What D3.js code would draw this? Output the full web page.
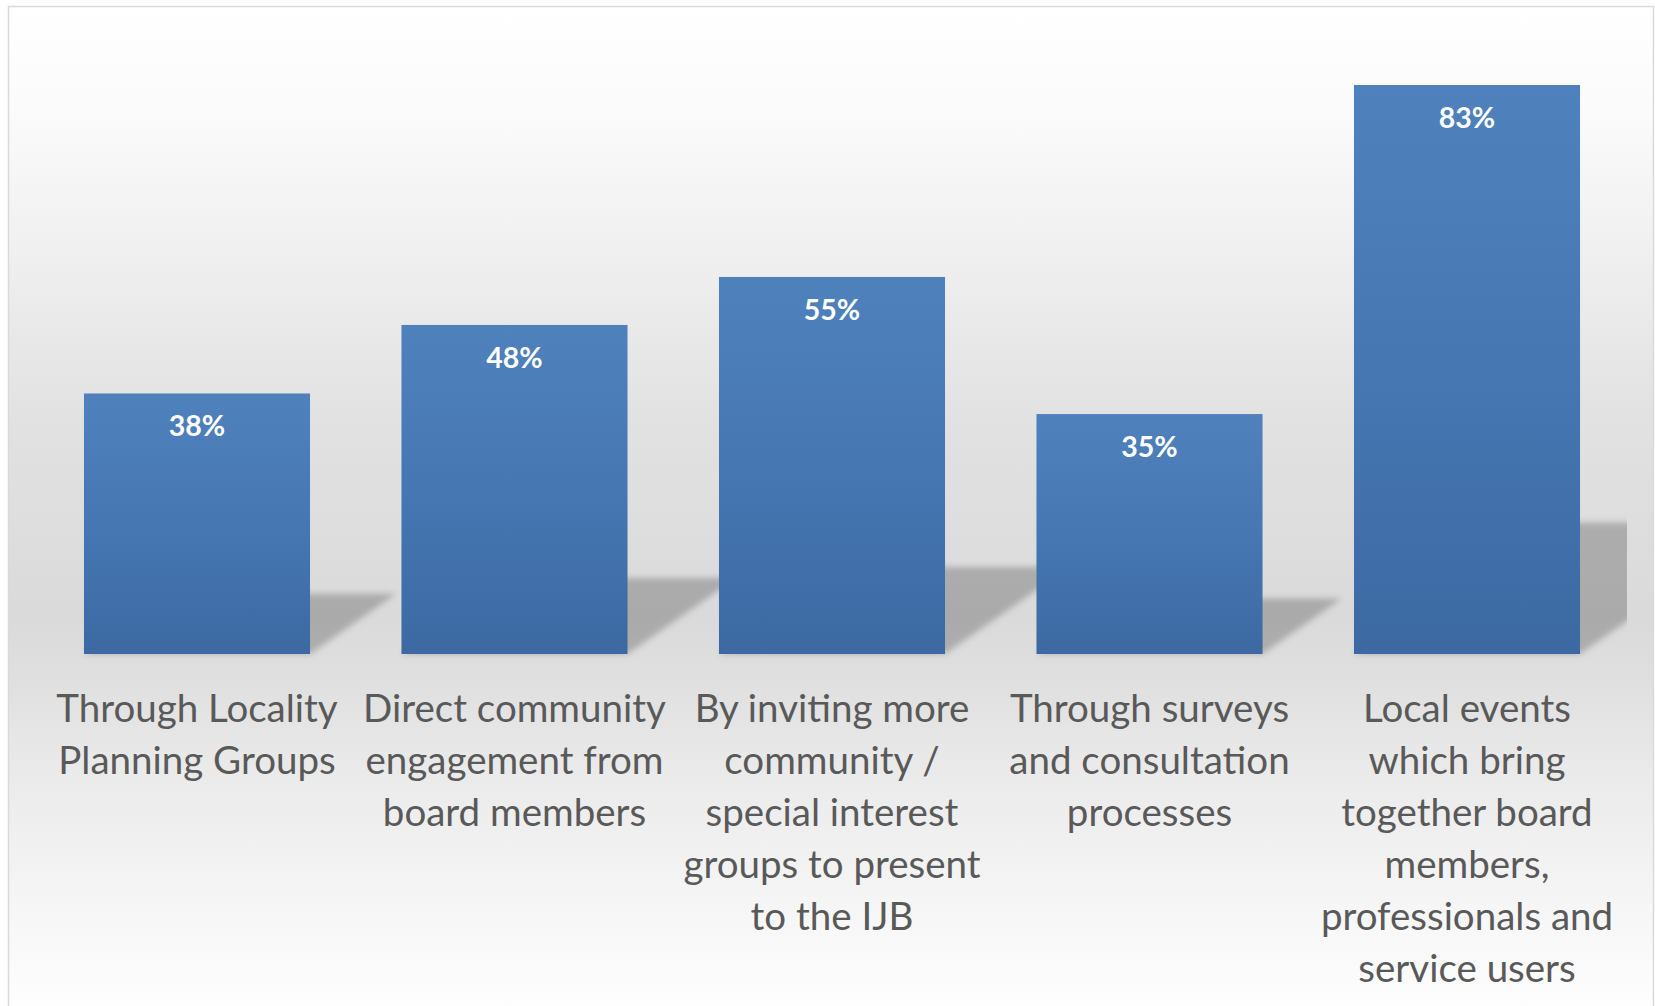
<!DOCTYPE html>
<html>
<head>
<meta charset="utf-8">
<script src="https://cdn.jsdelivr.net/npm/d3@7"></script>
<style>
  html, body { margin: 0; padding: 0; background: #ffffff; }
  svg { display: block; }
</style>
</head>
<body>
<svg id="chart" width="1655" height="1006"></svg>
<script>
// Survey responses: ways of engaging the community
const categories = [
  "Through Locality\nPlanning Groups",
  "Direct community\nengagement from\nboard members",
  "By inviting more\ncommunity /\nspecial interest\ngroups to present\nto the IJB",
  "Through surveys\nand consultation\nprocesses",
  "Local events\nwhich bring\ntogether board\nmembers,\nprofessionals and\nservice users"
];
const values = [38, 48, 55, 35, 83];
const valueLabels = ["38%", "48%", "55%", "35%", "83%"];

const W = 1655, H = 1006;
const svg = d3.select("#chart");
const defs = svg.append("defs");

// chart area background: light-to-grey-to-light vertical wash
const bg = defs.append("linearGradient").attr("id", "bgGrad")
  .attr("x1", 0).attr("y1", 0).attr("x2", 0).attr("y2", 1);
[[0, "#ffffff"], [0.1, "#fbfbfb"], [0.25, "#efefef"], [0.4, "#e2e2e2"],
 [0.6, "#dadada"], [0.66, "#dfdfdf"], [0.75, "#eaeaea"], [0.9, "#f7f7f7"], [1, "#ffffff"]]
  .forEach(([o, c]) => bg.append("stop").attr("offset", o).attr("stop-color", c));

// bar fill gradient
const barGrad = defs.append("linearGradient").attr("id", "barGrad")
  .attr("x1", 0).attr("y1", 0).attr("x2", 0).attr("y2", 1);
barGrad.append("stop").attr("offset", 0).attr("stop-color", "#4f81bd");
barGrad.append("stop").attr("offset", 0.5).attr("stop-color", "#4677b2");
barGrad.append("stop").attr("offset", 1).attr("stop-color", "#3c69a2");

const blur = defs.append("filter").attr("id", "shadowBlur")
  .attr("x", "-20%").attr("y", "-20%").attr("width", "140%").attr("height", "140%");
blur.append("feGaussianBlur").attr("stdDeviation", 3);

defs.append("clipPath").attr("id", "plotClip")
  .append("rect").attr("x", 10).attr("y", 8).attr("width", 1617).attr("height", 700);

// chart frame
svg.append("rect")
  .attr("x", 8.5).attr("y", 6.5).attr("width", W - 10).attr("height", H + 10)
  .attr("fill", "url(#bgGrad)")
  .attr("stroke", "#d9d9d9").attr("stroke-width", 1.5);

const x = d3.scaleBand().domain(categories)
  .range([38.25, 1625.75]).paddingInner(0.288).paddingOuter(0.144);
const y = d3.scaleLinear().domain([0, 90]).range([654, 37]);

// perspective shadows cast up and to the right of each bar
const squash = 0.231, lean = 1.43;
svg.append("g").attr("clip-path", "url(#plotClip)")
  .selectAll("path").data(values).join("path")
  .attr("d", (v, i) => {
    const x0 = x(categories[i]), x1 = x0 + x.bandwidth();
    const base = y(0), h = (y(0) - y(v)) * squash, dx = h * lean;
    return `M${x0},${base}L${x1},${base}L${x1 + dx},${base - h}L${x0 + dx},${base - h}Z`;
  })
  .attr("fill", "#000").attr("fill-opacity", 0.22)
  .attr("filter", "url(#shadowBlur)");

// bars
svg.append("g").selectAll("rect").data(values).join("rect")
  .attr("x", (v, i) => x(categories[i]))
  .attr("y", v => y(v))
  .attr("width", x.bandwidth())
  .attr("height", v => y(0) - y(v))
  .attr("fill", "url(#barGrad)");

// value labels inside bar tops
svg.append("g").selectAll("text").data(values).join("text")
  .attr("x", (v, i) => x(categories[i]) + x.bandwidth() / 2)
  .attr("y", v => y(v) + 43)
  .attr("text-anchor", "middle")
  .attr("font-family", "Lato, 'Open Sans', sans-serif")
  .attr("font-weight", 700)
  .attr("font-size", 28.5)
  .attr("fill", "#ffffff")
  .text((v, i) => valueLabels[i]);

// category labels
const labels = svg.append("g").selectAll("text").data(categories).join("text")
  .attr("text-anchor", "middle")
  .attr("font-family", "Lato, 'Open Sans', sans-serif")
  .attr("font-size", 38.5)
  .attr("fill", "#595959");
labels.each(function (c) {
  const cx = x(c) + x.bandwidth() / 2;
  d3.select(this).selectAll("tspan").data(c.split("\n")).join("tspan")
    .attr("x", cx)
    .attr("y", (d, j) => 722 + j * 52)
    .text(d => d);
});
</script>
</body>
</html>
